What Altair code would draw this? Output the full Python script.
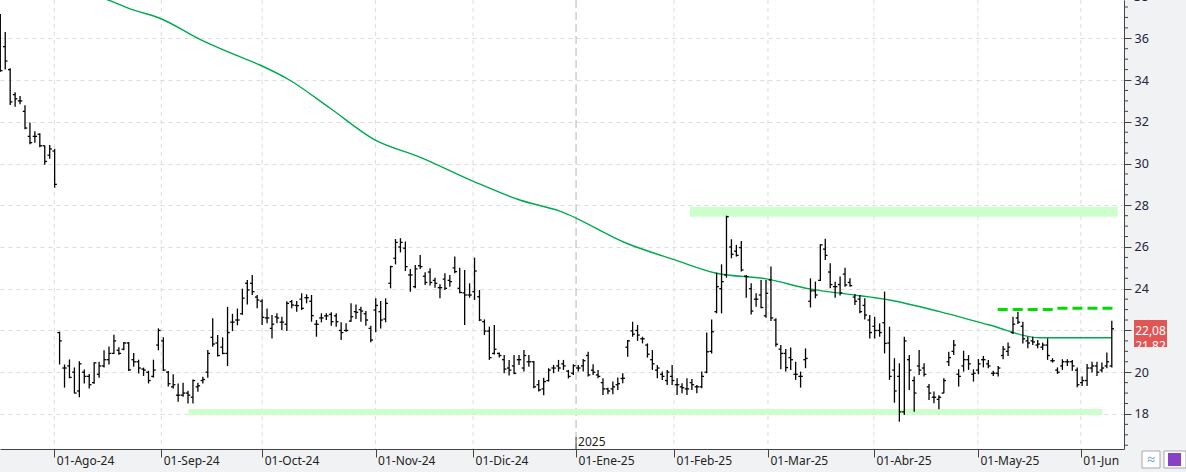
import altair as alt
import pandas as pd

# ---------------- OHLC data (one bar per trading day, left to right) ----------------
opens = [
    37.0, 35.6, 34.5, 33.3, 33.0, 32.5, 31.3, 31.3, 31.4, 30.85, 30.4, 30.6,
    21.9, 20.2, 20.3, 20.0, 19.1, 20.0, 19.8, 19.5, 19.9, 20.3, 20.6, 20.9, 21.05, 21.1, 21.4, 20.6, 20.5, 20.15, 20.0, 19.8,
    21.3, 21.5, 20.0, 19.3, 18.9, 18.9, 19.0, 18.8, 19.3, 19.6, 20.0, 21.67, 21.4, 21.2, 20.9, 22.4, 22.5, 22.8, 24.26, 24.26,
    23.6, 23.4, 22.6, 22.1, 22.65, 22.4, 22.3,
    23.38, 23.2, 23.5, 23.57, 23.4, 22.3, 22.6, 22.7, 22.77, 22.7, 22.0, 22.0, 22.45, 22.9, 23.0, 22.8, 22.1, 22.98, 22.9, 22.55,
    24.26, 25.46, 26.0, 25.94, 24.66, 24.1, 25.1, 24.6, 24.8, 24.4, 24.05, 24.46, 24.4, 25.0, 24.02, 23.8, 23.7, 23.86, 23.62, 22.42,
    21.97, 20.9, 20.9, 20.6, 20.2, 20.3, 20.6, 20.2, 20.5, 20.5, 19.4, 19.2, 19.6, 20.2, 20.3, 20.4, 20.05,
    19.95, 20.2, 20.3, 20.8, 20.1, 19.87, 19.5, 19.2, 19.2, 19.4, 19.7, 21.2, 21.98, 22.0, 21.6, 21.3, 20.6, 20.1, 19.9, 19.6,
    19.8, 19.4, 19.3, 19.2, 19.5, 19.3, 19.3, 20.0, 21.0, 22.9, 24.0, 24.66, 26.0, 25.8, 25.97, 24.6, 24.0, 23.5, 23.7, 22.7,
    24.42, 22.5, 21.1, 20.9, 20.7, 19.9, 19.8, 20.6, 23.4, 23.9, 24.4, 25.9, 24.8, 24.1, 24.2, 24.7,
    24.3, 23.6,
    23.5, 23.2, 22.5, 22.2, 22.0, 22.37, 21.4, 20.1, 19.8, 18.1, 20.6, 19.6, 20.3, 20.2, 19.3, 18.8, 18.7, 19.0, 20.5, 21.0,
    19.9, 20.3, 20.6, 19.9, 20.1, 20.6, 20.4, 19.95, 19.95, 20.8, 21.0, 21.9, 22.6, 22.2, 21.5, 21.5, 21.3, 21.2, 21.3, 20.55,
    20.1, 20.3, 20.5, 20.5, 20.1, 19.5, 19.6, 20.2, 20.3, 20.1, 20.3, 20.3,
]
highs = [
    37.16, 36.30, 34.56, 33.41, 33.24, 32.79, 31.97, 31.54, 31.45, 30.86, 30.89, 30.70,
    21.94, 20.37, 20.61, 20.23, 20.53, 20.13, 19.91, 20.48, 20.5, 21.05, 21.23, 21.8, 21.2, 21.45, 21.45, 20.92, 20.6, 20.22, 20.07, 20.6,
    22.1, 21.67, 20.06, 19.9, 19.46, 19.5, 19.11, 19.65, 19.5, 19.78, 21.06, 22.58, 21.78, 21.67, 23.13, 22.8, 23.05, 24.0, 24.42, 24.66,
    23.7, 23.49, 23.05, 22.74, 22.82, 22.66, 23.4,
    23.46, 23.41, 23.78, 23.73, 23.7, 22.5, 22.82, 22.82, 22.87, 22.82, 22.39, 22.34, 23.3, 23.25, 23.14, 22.93, 22.23, 23.54, 23.41, 23.54,
    25.1, 26.38, 26.42, 26.26, 24.95, 25.14, 25.62, 24.79, 24.98, 24.53, 24.21, 24.74, 24.66, 25.54, 25.01, 24.9, 24.26, 25.49, 23.94, 22.53,
    22.18, 22.26, 20.94, 20.82, 20.59, 20.82, 20.82, 21.06, 20.82, 20.54, 19.63, 19.74, 20.19, 20.35, 20.59, 20.59, 20.11,
    20.38, 20.35, 20.63, 20.98, 20.38, 20.11, 19.71, 19.26, 19.55, 19.75, 19.95, 21.54, 22.42, 22.26, 21.7, 21.38, 21.06, 20.35, 20.03, 20.11,
    20.35, 19.71, 19.47, 19.71, 19.68, 19.39, 20.03, 21.9, 22.53, 24.77, 25.17, 27.5, 26.37, 26.1, 26.29, 24.66, 24.26, 23.78, 24.42, 24.42,
    25.06, 22.58, 21.3, 21.11, 21.18, 20.5, 20.03, 21.14, 24.5, 24.34, 26.13, 26.4, 25.22, 24.34, 24.58, 25.01,
    24.5, 23.75,
    23.7, 23.54, 22.74, 22.66, 22.34, 23.86, 22.18, 20.67, 20.43, 21.7, 20.82, 19.79, 21.06, 20.43, 19.44, 19.07, 18.9, 19.71, 20.98, 21.54,
    20.14, 21.03, 20.82, 20.14, 20.63, 20.78, 20.59, 20.07, 20.3, 21.26, 21.42, 22.66, 22.9, 22.42, 21.7, 21.7, 21.54, 21.42, 21.62, 20.67,
    20.23, 20.62, 20.62, 20.59, 20.23, 19.79, 20.39, 20.5, 20.5, 20.46, 20.94, 22.47,
]
lows = [
    34.40, 34.51, 32.80, 32.72, 32.84, 31.64, 30.92, 31.0, 30.78, 29.94, 30.23, 28.84,
    20.37, 19.26, 19.71, 18.99, 18.80, 19.46, 19.22, 19.45, 19.74, 20.22, 20.37, 20.87, 20.84, 21.05, 20.06, 20.26, 19.94, 19.82, 19.46, 19.74,
    21.05, 20.06, 19.31, 19.22, 18.59, 18.82, 18.5, 18.5, 19.06, 19.46, 19.74, 21.22, 20.75, 20.86, 20.3, 21.97, 22.25, 22.75, 23.25, 23.7,
    23.06, 22.26, 22.34, 21.62, 22.34, 22.02, 21.97,
    23.06, 22.9, 22.98, 23.3, 22.42, 21.7, 22.39, 22.5, 22.23, 22.18, 21.54, 21.94, 22.42, 22.55, 22.42, 22.23, 21.43, 21.91, 22.1, 22.39,
    24.02, 25.17, 25.74, 24.85, 23.86, 24.02, 24.95, 24.18, 24.15, 24.05, 23.54, 23.94, 24.1, 24.74, 23.78, 22.26, 23.57, 23.46, 22.45, 21.78,
    20.59, 20.85, 20.7, 19.95, 19.84, 19.9, 20.35, 20.03, 20.26, 19.23, 19.07, 18.9, 19.55, 19.95, 20.03, 20.11, 19.7,
    19.87, 20.03, 20.03, 19.79, 19.87, 19.71, 18.91, 18.94, 18.94, 19.15, 19.47, 20.74, 21.7, 21.5, 21.38, 20.7, 20.11, 19.71, 19.63, 19.39,
    19.39, 18.91, 18.99, 18.91, 19.15, 18.99, 19.23, 19.95, 20.9, 22.82, 22.82, 24.53, 25.46, 25.54, 24.82, 23.57, 22.77, 23.14, 23.06, 22.61,
    22.45, 21.22, 20.14, 20.03, 20.11, 19.63, 19.26, 20.19, 23.1, 23.54, 24.37, 25.38, 24.02, 23.57, 23.67, 24.1,
    24.1, 23.22,
    22.82, 22.53, 21.62, 21.62, 21.7, 20.9, 19.63, 18.54, 17.63, 17.95, 19.15, 18.11, 19.87, 19.79, 18.67, 18.51, 18.22, 18.99, 20.3, 20.82,
    19.31, 20.03, 20.11, 19.55, 19.9, 20.23, 20.19, 19.82, 19.79, 20.62, 20.78, 21.83, 22.31, 21.38, 21.15, 21.3, 21.15, 21.06, 20.59, 20.46,
    19.92, 20.11, 20.3, 20.07, 19.28, 19.34, 19.34, 19.98, 19.82, 19.98, 20.19, 20.23,
]
closes = [
    34.45, 34.91, 32.95, 33.1, 33.0, 31.7, 31.0, 31.3, 30.85, 30.1, 30.7, 29.0,
    21.5, 20.2, 19.75, 19.0, 20.4, 19.8, 19.4, 20.45, 20.3, 20.6, 20.9, 21.5, 20.9, 21.4, 20.11, 20.5, 20.2, 20.1, 19.6, 20.1,
    22.0, 20.1, 19.45, 19.4, 18.9, 19.0, 18.9, 19.6, 19.35, 19.65, 20.9, 21.35, 20.8, 20.9, 21.9, 22.4, 22.5, 23.55, 23.94, 23.86,
    23.46, 22.63, 22.6, 22.3, 22.6, 22.4, 23.3,
    23.22, 23.19, 23.06, 23.57, 22.71, 22.3, 22.6, 22.7, 22.42, 22.42, 21.9, 22.0, 22.66, 22.87, 22.93, 22.5, 21.54, 23.2, 22.5, 23.3,
    25.06, 26.22, 26.22, 25.06, 24.66, 24.95, 25.06, 24.3, 24.3, 24.26, 24.05, 24.02, 24.34, 24.82, 23.82, 23.7, 23.7, 24.85, 22.5, 21.97,
    20.7, 21.1, 20.8, 20.15, 20.1, 19.95, 20.6, 20.8, 20.5, 19.3, 19.15, 19.55, 20.1, 20.2, 20.2, 20.3, 19.8,
    20.31, 20.2, 20.55, 19.87, 20.0, 19.8, 19.2, 19.1, 19.3, 19.45, 19.71, 21.5, 21.82, 21.78, 21.6, 20.86, 20.4, 20.2, 19.8, 20.0,
    19.6, 19.4, 19.26, 19.2, 19.4, 19.3, 19.8, 20.98, 21.94, 24.1, 24.34, 27.45, 25.65, 25.6, 24.9, 24.58, 22.93, 23.5, 23.1, 23.78,
    22.6, 21.34, 20.9, 20.22, 20.6, 19.9, 19.8, 20.66, 23.9, 23.7, 26.1, 25.6, 24.2, 24.1, 23.8, 24.18,
    24.15, 23.4,
    22.9, 22.74, 21.9, 22.0, 21.9, 21.38, 19.8, 19.1, 18.1, 21.5, 20.1, 19.0, 20.1, 19.9, 19.0, 18.8, 18.8, 19.6, 20.7, 21.3,
    19.8, 20.6, 20.4, 19.95, 20.4, 20.6, 20.3, 19.95, 20.2, 21.1, 21.2, 22.3, 22.4, 21.6, 21.4, 21.45, 21.35, 21.3, 20.8, 20.55,
    20.0, 20.5, 20.5, 20.3, 19.4, 19.6, 20.2, 20.3, 20.0, 20.2, 20.5, 22.08,
]

# moving average (bar index -> price)
ma_i = [20.17, 21.85, 26.91, 32.31, 40.41, 46.48, 52.55, 58.62, 66.71, 75.82, 84.92, 95.65, 105.16,
        113.25, 126.75, 136.54, 144.96, 155.08, 163.84, 171.93, 180.03, 190.15, 200.26, 210.38, 224.95]
ma_v = [37.98, 37.835, 37.36, 36.96, 35.95, 35.31, 34.72, 33.99, 32.66, 31.13, 30.31, 29.16, 28.25,
        27.72, 26.18, 25.38, 24.74, 24.47, 23.99, 23.73, 23.46, 22.9, 22.26, 21.65, 21.65]

# support / resistance bands
band_x = [139.6, 38.04]
band_x2 = [226.2, 223.1]
band_lo = [27.45, 17.96]
band_hi = [27.93, 18.24]

# dashed resistance line
dash_x = [201.9, 214.0]
dash_x2 = [213.4, 225.8]
dash_y = [23.0, 23.06]

# month ticks (bar-index positions) and labels
tick_pos = [10.93, 32.58, 53.01, 75.96, 95.71, 116.55, 136.38, 155.4, 176.85, 197.9, 218.74]
tick_lab = ["01-Ago-24", "01-Sep-24", "01-Oct-24", "01-Nov-24", "01-Dic-24", "01-Ene-25",
            "01-Feb-25", "01-Mar-25", "01-Abr-25", "01-May-25", "01-Jun"]
year_pos = 116.55
y_ticks = [18, 20, 22, 24, 26, 28, 30, 32, 34, 36]

n = len(opens)
if not (len(highs) == n and len(lows) == n and len(closes) == n):
    raise ValueError(f"lengths o={len(opens)} h={len(highs)} l={len(lows)} c={len(closes)}")

bars = pd.DataFrame({"i": list(range(n)), "o": opens, "h": highs, "l": lows, "c": closes})
ma = pd.DataFrame({"i": ma_i, "v": ma_v})
bands = pd.DataFrame({"x": band_x, "x2": band_x2, "lo": band_lo, "hi": band_hi})
dashes = pd.DataFrame({"x": dash_x, "x2": dash_x2, "y": dash_y})
grid_v = pd.DataFrame({"x": [p for p in tick_pos if p != year_pos]})
year_df = pd.DataFrame({"x": [year_pos], "t": ["2025"]})
minor_df = pd.DataFrame({"y": [v / 2 for v in range(33, 76) if v % 4 != 0]})
one = pd.DataFrame({"a": [0]})

FONT = "Noto Sans"
xs = alt.Scale(domain=[-0.0607, 227.47], nice=False, zero=False)
ys = alt.Scale(domain=[16.32, 37.835], nice=False, zero=False)

label_expr = ("[" + ",".join(f"'{t}'" for t in tick_lab) + "][indexof(["
              + ",".join(str(p) for p in tick_pos) + "], datum.value)]")

x_axis = alt.Axis(values=tick_pos, labelExpr=label_expr, grid=False, tickSize=8,
                  tickColor="#444444", domainColor="#444444", labelAlign="left",
                  labelOffset=2, labelPadding=-2, labelFont=FONT, labelFontSize=12,
                  labelColor="#222222", labelOverlap=False, labelFlush=False,
                  labelBound=False, title=None)
y_axis = alt.Axis(orient="right", values=y_ticks, tickSize=7, tickColor="#444444",
                  domainColor="#444444", labelFont=FONT, labelFontSize=12.5,
                  labelColor="#23233a", labelPadding=3, grid=True, gridColor="#dcdcdc",
                  gridDash=[4, 4], labelFlush=False, labelBound=False, title=None)


def X(field):
    return alt.X(field, scale=xs, axis=x_axis)


def Y(field):
    return alt.Y(field, scale=ys, axis=y_axis)


grid_layer = alt.Chart(grid_v).mark_rule(color="#dcdcdc", strokeDash=[4, 4], strokeWidth=1).encode(
    x=X("x:Q"))

year_rule = alt.Chart(year_df).mark_rule(color="#c6c6c6", strokeDash=[8, 4], strokeWidth=1.3).encode(
    x=X("x:Q"))

band_layer = alt.Chart(bands).mark_rect(color="#ccffcc").encode(
    x=X("x:Q"), x2="x2:Q", y=Y("lo:Q"), y2="hi:Q")

ma_layer = alt.Chart(ma).mark_line(color="#00a94f", strokeWidth=1.4, clip=True,
                                   interpolate="monotone").encode(
    x=X("i:Q"), y=Y("v:Q"))

hl_layer = alt.Chart(bars).mark_rule(color="black", strokeWidth=1.3).encode(
    x=X("i:Q"), y=Y("l:Q"), y2="h:Q")

open_layer = alt.Chart(bars).transform_calculate(xl="datum.i - 0.45").mark_rule(
    color="black", strokeWidth=1.3).encode(
    x=X("xl:Q"), x2="i:Q", y=Y("o:Q"))

close_layer = alt.Chart(bars).transform_calculate(xr="datum.i + 0.45").mark_rule(
    color="black", strokeWidth=1.3).encode(
    x=X("i:Q"), x2="xr:Q", y=Y("c:Q"))

dash_layer = alt.Chart(dashes).mark_rule(color="#00dd00", strokeWidth=3, strokeDash=[10, 5]).encode(
    x=X("x:Q"), x2="x2:Q", y=Y("y:Q"))

minor_layer = alt.Chart(minor_df).mark_rule(color="#444444", strokeWidth=1).encode(
    x=alt.value(1124), x2=alt.value(1128), y=Y("y:Q"))

top_label = alt.Chart(pd.DataFrame({"y": [38], "t": ["38"]})).mark_text(
    align="left", baseline="middle", font=FONT, fontSize=12.5, color="#23233a").encode(
    x=alt.value(1134), y=Y("y:Q"), text="t:N")

year_tick = alt.Chart(year_df).mark_rule(color="#444444", strokeWidth=1).encode(
    x=X("x:Q"), y=alt.value(437), y2=alt.value(449))

year_text = alt.Chart(year_df).mark_text(align="left", baseline="alphabetic", dx=2,
                                          font=FONT, fontSize=12, color="#222222").encode(
    x=X("x:Q"), y=alt.value(446), text="t:N")

price_box = alt.Chart(one).mark_rect(color="#e25555").encode(
    x=alt.value(1134), x2=alt.value(1167), y=alt.value(320), y2=alt.value(347))
price_txt2 = alt.Chart(pd.DataFrame({"t": ["21,82"]})).mark_text(
    align="center", baseline="middle", font=FONT, fontSize=12, color="white").encode(
    x=alt.value(1150.5), y=alt.value(346), text="t:N")
price_cover = alt.Chart(one).mark_rect(color="#f1f2f3").encode(
    x=alt.value(1133), x2=alt.value(1168), y=alt.value(347), y2=alt.value(354))
price_txt1 = alt.Chart(pd.DataFrame({"t": ["22,08"]})).mark_text(
    align="center", baseline="middle", font=FONT, fontSize=12, color="white").encode(
    x=alt.value(1150.5), y=alt.value(330.5), text="t:N")

icon1 = alt.Chart(one).mark_rect(fill="white", stroke="#a8a8a8", strokeWidth=1).encode(
    x=alt.value(1142), x2=alt.value(1160), y=alt.value(451), y2=alt.value(468))
icon1_txt = alt.Chart(pd.DataFrame({"t": ["≈"]})).mark_text(
    align="center", baseline="middle", font=FONT, fontSize=14, color="#4a8fd8").encode(
    x=alt.value(1151), y=alt.value(459.5), text="t:N")
icon2 = alt.Chart(one).mark_rect(fill="white", stroke="#a8a8a8", strokeWidth=1).encode(
    x=alt.value(1164), x2=alt.value(1186), y=alt.value(451), y2=alt.value(468))
icon2_in = alt.Chart(one).mark_rect(fill="#8a3fc7").encode(
    x=alt.value(1168), x2=alt.value(1181), y=alt.value(453), y2=alt.value(466))

chart = alt.layer(
    grid_layer, year_rule, band_layer, ma_layer, hl_layer, open_layer, close_layer,
    dash_layer, minor_layer, top_label, year_tick, year_text,
    price_box, price_txt2, price_cover, price_txt1, icon1, icon1_txt, icon2, icon2_in,
).properties(
    width=1124, height=449,
    autosize=alt.AutoSizeParams(type="none"),
    padding={"left": 0, "top": 0, "right": 62, "bottom": 23},
    background="#f1f2f3",
).configure_view(fill="white", stroke=None)

chart.save("out.html", embed_options={"renderer": "svg", "actions": False})
